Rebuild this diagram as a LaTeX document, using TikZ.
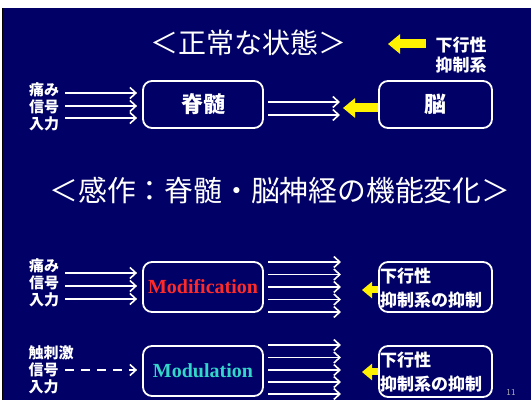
\documentclass[tikz,border=0pt]{standalone}
\usepackage{fontspec}
\setmainfont{Liberation Serif}
\newfontfamily\jp{Noto Sans CJK JP}
\usetikzlibrary{arrows.meta,calc}
\definecolor{navy}{HTML}{000066}
\definecolor{modred}{HTML}{FF2A2A}
\definecolor{modteal}{HTML}{33D6C8}
\tikzset{
  boxnode/.style={draw=white, line width=1.8pt, rounded corners=9pt, inner sep=0pt},
  wa/.style={draw=white, line width=1.6pt, -{Straight Barb[length=6pt,width=11pt]}},
  wad/.style={wa, dash pattern=on 9pt off 7pt},
  yabig/.style={draw=yellow, line width=9pt, -{Triangle[length=12pt,width=19pt]}},
  yasmall/.style={draw=yellow, line width=7pt, -{Triangle[length=10pt,width=16pt]}},
  lbl/.style={text=white, font=\jp\bfseries\fontsize{15}{16.8}\selectfont, align=left, inner sep=0pt},
  ttl/.style={text=white, font=\jp\fontsize{28}{30}\selectfont, inner sep=0pt},
  rtxt/.style={text=white, font=\jp\bfseries\fontsize{17}{24}\selectfont, align=left, inner sep=0pt, anchor=west},
}
\begin{document}
\begin{tikzpicture}[x=1pt,y=-1pt]
\useasboundingbox (0,0) rectangle (531,403);
\fill[white] (0,0) rectangle (531,403);
\fill[navy] (3,8) rectangle (531,400);
\draw[black, line width=0.8pt] (2.6,8) -- (2.6,400);

% ---------- top section ----------
\node[ttl] (t1) at (248,43) {＜正常な状態＞};
\node[lbl, font=\jp\bfseries\fontsize{17}{20.5}\selectfont] (legend) at (461,55) {下行性\\抑制系};
\coordinate (lgA) at (426,44);
\coordinate (lgB) at (388,44);
\draw[yabig] (lgA) -- (lgB);

\node[boxnode, minimum width=120pt, minimum height=47pt] (spine) at (203,104.5) {};
\node[text=white, font=\jp\bfseries\fontsize{22}{24}\selectfont] at (spine) {脊髄};
\node[boxnode, minimum width=113pt, minimum height=47pt] (brain) at (435.5,104.5) {};
\node[text=white, font=\jp\bfseries\fontsize{22}{24}\selectfont] at (brain) {脳};

\node[lbl] (in1) at (44,107) {痛み\\信号\\入力};
\foreach \y in {93,106,118}{
  \draw[wa] (65,\y) -- ([xshift=-5pt]spine.west |- 0,\y);
}
\foreach \y in {102,115}{
  \draw[wa] ([xshift=4pt]spine.east |- 0,\y) -- (340,\y);
}
\draw[yabig] (brain.west |- 0,108) -- (343,108);

% ---------- middle title ----------
\node[ttl, font=\jp\fontsize{28.8}{30}\selectfont] (t2) at (280,191) {＜感作：脊髄・脳神経の機能変化＞};

% ---------- Modification ----------
\node[boxnode, minimum width=120pt, minimum height=50pt] (modif) at (203,287) {};
\node[text=modred, font=\bfseries\fontsize{20}{22}\selectfont, inner sep=0pt] at (modif) {Modification};
\node[boxnode, minimum width=113pt, minimum height=50pt] (r2) at (435.5,287) {};
\node[rtxt] (r2t) at (380,288) {下行性\\抑制系の抑制};
\node[lbl] (in2) at (44,283) {痛み\\信号\\入力};
\foreach \y in {273,286,299}{
  \draw[wa] (65,\y) -- ([xshift=-5pt]modif.west |- 0,\y);
}
\foreach \y in {262,274.5,287,299.5,312}{
  \draw[wa] ([xshift=4pt]modif.east |- 0,\y) -- (341,\y);
}
\draw[yasmall] (r2.west |- 0,290) -- (362,290);

% ---------- Modulation ----------
\node[boxnode, minimum width=120pt, minimum height=50pt] (modul) at (203,371) {};
\node[text=modteal, font=\bfseries\fontsize{20}{22}\selectfont, inner sep=0pt] at (modul) {Modulation};
\node[boxnode, minimum width=113pt, minimum height=51pt] (r3) at (435.5,371.5) {};
\node[rtxt] (r3t) at (380,372) {下行性\\抑制系の抑制};
\node[lbl] (in3) at (51,370) {触刺激\\信号\\入力};
\draw[wad] (65,370) -- ([xshift=-5pt]modul.west |- 0,370);
\foreach \y in {345,357.5,370,382,394}{
  \draw[wa] ([xshift=4pt]modul.east |- 0,\y) -- (341,\y);
}
\draw[yasmall] (r3.west |- 0,372) -- (362,372);

\node[text=black!30, font=\sffamily\fontsize{9}{10}\selectfont] (pg) at (511,392) {11};
\end{tikzpicture}
\end{document}
